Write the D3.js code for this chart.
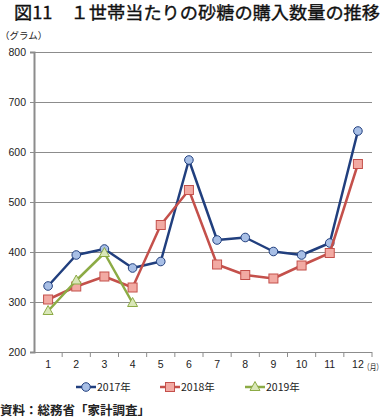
<!DOCTYPE html>
<meta charset="utf-8">
<head>
<style>
  body { margin: 0; background: #fff; }
  text { font-family: "Noto Sans CJK JP", "Liberation Sans", sans-serif; }
  .tick-label { font-family: "Liberation Sans", Arial, sans-serif; font-size: 10.5px; fill: #222; }
</style>
</head>
<script src="https://d3js.org/d3.v7.min.js"></script>
<div id="chart"></div>
<script>
// months and yearly values (grams per household)
var months = [1, 2, 3, 4, 5, 6, 7, 8, 9, 10, 11, 12];
var yTicks = [200, 300, 400, 500, 600, 700, 800];
var v2017 = [332, 394, 406, 368, 381, 584, 424, 429, 401, 394, 418, 642];
var v2018 = [305, 331, 351, 329, 454, 524, 375, 354, 347, 373, 398, 576];
var v2019 = [282, 343, 398, 298];

var series = [
  {name: "2017年", values: v2017, line: "#213f7e", fill: "#a8bfe6", shape: "circle"},
  {name: "2018年", values: v2018, line: "#c4504b", fill: "#f2aaa3", shape: "square"},
  {name: "2019年", values: v2019, line: "#8cab45", fill: "#d9e7b8", shape: "triangle"}
];

var W = 389, H = 418;
var plotLeft = 34, plotRight = 372, plotTop = 52, plotBottom = 352;

var svg = d3.select("#chart").append("svg")
  .attr("width", W).attr("height", H);

// title
svg.append("text")
  .attr("x", 14).attr("y", 19)
  .attr("font-size", 17.5).attr("font-weight", 400).attr("fill", "#111")
  .attr("stroke", "#111").attr("stroke-width", 0.35)
  .attr("textLength", 366).attr("lengthAdjust", "spacingAndGlyphs")
  .text("図11　１世帯当たりの砂糖の購入数量の推移");

svg.append("text")
  .attr("x", 0).attr("y", 39)
  .attr("font-size", 9.5).attr("fill", "#222")
  .text("（グラム）");

var x = d3.scaleBand().domain(months).range([plotLeft, plotRight]).padding(0);
var y = d3.scaleLinear().domain([200, 800]).range([plotBottom, plotTop]);
var cx = function(m) { return x(m) + x.bandwidth() / 2; };

// gridlines
svg.append("g").selectAll("line")
  .data(yTicks.slice(1))
  .enter().append("line")
    .attr("x1", plotLeft).attr("x2", plotRight)
    .attr("y1", function(d) { return y(d) + 0.5; })
    .attr("y2", function(d) { return y(d) + 0.5; })
    .attr("stroke", "#8c8c8c").attr("stroke-width", 1);

// y axis
var yAxis = svg.append("g")
  .attr("transform", "translate(" + plotLeft + ",0)")
  .call(d3.axisLeft(y).tickValues(yTicks).tickSize(4).tickPadding(4));
yAxis.select(".domain").attr("stroke", "#8c8c8c").attr("stroke-width", 2);
yAxis.selectAll(".tick line").attr("stroke", "#8c8c8c");
yAxis.selectAll(".tick text").attr("class", "tick-label").attr("dy", "0.35em");

// x axis: labels centered, ticks at band boundaries
var xAxis = svg.append("g")
  .attr("transform", "translate(0," + plotBottom + ")")
  .call(d3.axisBottom(x).tickSize(0).tickPadding(9));
xAxis.select(".domain").remove();
xAxis.selectAll(".tick text").attr("class", "tick-label");
svg.append("line")
  .attr("x1", plotLeft).attr("x2", plotRight)
  .attr("y1", plotBottom + 0.5).attr("y2", plotBottom + 0.5)
  .attr("stroke", "#8c8c8c").attr("stroke-width", 1);
svg.append("g").selectAll("line")
  .data(months)
  .enter().append("line")
    .attr("x1", function(d) { return x(d) + x.bandwidth(); })
    .attr("x2", function(d) { return x(d) + x.bandwidth(); })
    .attr("y1", plotBottom).attr("y2", plotBottom + 5)
    .attr("stroke", "#8c8c8c");

svg.append("text")
  .attr("x", 363).attr("y", plotBottom + 18)
  .attr("font-size", 8.5).attr("fill", "#222")
  .attr("textLength", 20).attr("lengthAdjust", "spacingAndGlyphs")
  .text("（月）");

// markers
function drawMarker(g, shape, px, py, s) {
  if (shape === "circle") {
    g.append("circle").attr("cx", px).attr("cy", py).attr("r", 4.3)
      .attr("fill", s.fill).attr("stroke", s.line).attr("stroke-width", 1);
  } else if (shape === "square") {
    g.append("rect").attr("x", px - 4.5).attr("y", py - 4.5)
      .attr("width", 9).attr("height", 9)
      .attr("fill", s.fill).attr("stroke", s.line).attr("stroke-width", 1);
  } else {
    g.append("path")
      .attr("d", "M" + px + "," + (py - 5.5) + "L" + (px + 5) + "," + (py + 3.5) + "L" + (px - 5) + "," + (py + 3.5) + "Z")
      .attr("fill", s.fill).attr("stroke", s.line).attr("stroke-width", 1);
  }
}

var line = d3.line()
  .x(function(d, i) { return cx(months[i]); })
  .y(function(d) { return y(d); });

series.forEach(function(s) {
  var g = svg.append("g");
  g.append("path")
    .attr("d", line(s.values))
    .attr("fill", "none")
    .attr("stroke", s.line)
    .attr("stroke-width", 2.5)
    .attr("stroke-linejoin", "round");
  s.values.forEach(function(v, i) {
    drawMarker(g, s.shape, cx(months[i]), y(v), s);
  });
});

// legend
var legendX = [76, 160, 245];
series.forEach(function(s, i) {
  var g = svg.append("g");
  var lx = legendX[i], ly = 387;
  g.append("line")
    .attr("x1", lx).attr("x2", lx + 20)
    .attr("y1", ly).attr("y2", ly)
    .attr("stroke", s.line).attr("stroke-width", 2.5);
  drawMarker(g, s.shape, lx + 10, ly, s);
  g.append("text")
    .attr("x", lx + 21).attr("y", ly + 4)
    .attr("font-size", 10.5).attr("fill", "#222")
    .text(s.name);
});

// source
svg.append("text")
  .attr("x", 0).attr("y", 415)
  .attr("font-size", 12.5).attr("font-weight", "bold").attr("fill", "#222")
  .text("資料：総務省「家計調査」");
</script>
